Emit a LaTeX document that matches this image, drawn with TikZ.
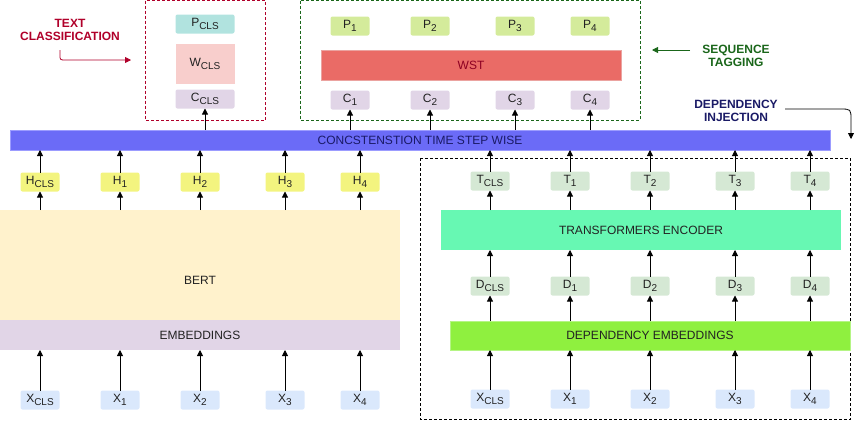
\documentclass[tikz,border=0pt]{standalone}
\usepackage{fontspec}
\setmainfont{Liberation Sans}
\usetikzlibrary{arrows.meta}
\definecolor{cP}{HTML}{D4EB9B}
\definecolor{cPcls}{HTML}{B1E3DF}
\definecolor{cW}{HTML}{F8CECC}
\definecolor{cC}{HTML}{E1D5E7}
\definecolor{cWST}{HTML}{EA6B66}
\definecolor{cWSTb}{HTML}{EBA3A0}
\definecolor{cCat}{HTML}{6B6BF7}
\definecolor{cCatb}{HTML}{9C9CFF}
\definecolor{cH}{HTML}{F3F47F}
\definecolor{cBert}{HTML}{FFF2CC}
\definecolor{cX}{HTML}{DAE8FC}
\definecolor{cT}{HTML}{D5E8D4}
\definecolor{cTr}{HTML}{67F8B3}
\definecolor{cDep}{HTML}{8FF03F}
\definecolor{cDepb}{HTML}{B5F585}
\definecolor{cRed}{HTML}{B0002A}
\definecolor{cGreen}{HTML}{1A661A}
\definecolor{cNavy}{HTML}{1A1A66}
\definecolor{cTxt}{HTML}{222222}
\newcommand\lowsub[1]{\raisebox{-2.5pt}{\fontsize{10}{10}\selectfont #1}}
\begin{document}
\begin{tikzpicture}[x=1pt,y=-1pt,
  every node/.style={font=\fontsize{12}{13}\selectfont, text=cTxt, inner sep=0pt, outer sep=0pt},
  tok/.style={rounded corners=2pt, minimum width=39pt, minimum height=19pt},
  arr/.style={draw=black, line width=0.8pt, -{Triangle[length=6pt,width=6pt]}},
  lbl/.style={font=\fontsize{12}{13}\selectfont\bfseries, align=center},
  dbox/.style={dashed, dash pattern=on 3pt off 2pt, line width=0.8pt},
]
\useasboundingbox (0,0) rectangle (859,421);

% ---------- group frames ----------
\draw[dbox, draw=cRed] (145.5,0.5) rectangle (265.5,120);
\draw[dbox, draw=cGreen] (300.5,0.5) rectangle (640,120);
\draw[dbox, draw=black] (420.5,158) rectangle (850,419.5);

\node[tok, fill=cPcls, minimum width=59pt] (pcls) at (205,24) {P\lowsub{CLS}};
\node[fill=cW, minimum width=59pt, minimum height=40pt] (wcls) at (205,64) {W\lowsub{CLS}};
\node[tok, fill=cC, minimum width=59pt] (ccls) at (205,99) {C\lowsub{CLS}};

\node[tok, fill=cP] (p1) at (350,26) {P\lowsub{1}};
\node[tok, fill=cP] (p2) at (430,26) {P\lowsub{2}};
\node[tok, fill=cP] (p3) at (515,26) {P\lowsub{3}};
\node[tok, fill=cP] (p4) at (590,26) {P\lowsub{4}};
\node[fill=cWST, draw=cWSTb, line width=0.8pt, minimum width=300pt, minimum height=30pt, text=cRed!80!black] (wst) at (471,65) {WST};
\node[tok, fill=cC] (c1) at (350,100) {C\lowsub{1}};
\node[tok, fill=cC] (c2) at (430,100) {C\lowsub{2}};
\node[tok, fill=cC] (c3) at (515,100) {C\lowsub{3}};
\node[tok, fill=cC] (c4) at (590,100) {C\lowsub{4}};

% labels
\node[lbl, text=cRed] (tcl) at (70,29.5) {TEXT\\CLASSIFICATION};
\coordinate (tc0) at (60,50);
\coordinate (tc1) at (131,60);
\draw[arr, draw=cRed] (tc0) -- (60,55) .. controls (60,60) .. (66,60) -- (tc1);

\node[lbl, text=cGreen] (stl) at (736,55.5) {SEQUENCE\\TAGGING};
\coordinate (st0) at (690,50);
\coordinate (st1) at (652,50);
\draw[arr, draw=cGreen] (st0) -- (st1);

\node[lbl, text=cNavy] (dil) at (736,110.5) {DEPENDENCY\\INJECTION};
\coordinate (di0) at (785,109);
\coordinate (di1) at (851,139);
\draw[arr] (di0) -- (840,109) .. controls (851,109) .. (851,120) -- (di1);

% ---------- concatenation bar ----------
\node[fill=cCat, draw=cCatb, line width=0.8pt, minimum width=820pt, minimum height=20pt, text=cNavy] (cat) at (420,140) {CONCSTENSTION TIME STEP WISE};

% ---------- left: BERT ----------
\node[tok, fill=cH] (h0) at (40,182) {H\lowsub{CLS}};
\node[tok, fill=cH] (h1) at (120,182) {H\lowsub{1}};
\node[tok, fill=cH] (h2) at (200,182) {H\lowsub{2}};
\node[tok, fill=cH] (h3) at (285,182) {H\lowsub{3}};
\node[tok, fill=cH] (h4) at (360,182) {H\lowsub{4}};

\node[fill=cBert, minimum width=400pt, minimum height=140pt] (bert) at (200,280) {BERT};
\node[fill=cC, minimum width=400pt, minimum height=30pt] (emb) at (200,335) {EMBEDDINGS};

\node[tok, fill=cX] (xa0) at (40,400) {X\lowsub{CLS}};
\node[tok, fill=cX] (xa1) at (120,400) {X\lowsub{1}};
\node[tok, fill=cX] (xa2) at (200,400) {X\lowsub{2}};
\node[tok, fill=cX] (xa3) at (285,400) {X\lowsub{3}};
\node[tok, fill=cX] (xa4) at (360,400) {X\lowsub{4}};

% ---------- right: dependency ----------
\node[tok, fill=cT] (t0) at (490,181) {T\lowsub{CLS}};
\node[tok, fill=cT] (t1) at (570,181) {T\lowsub{1}};
\node[tok, fill=cT] (t2) at (650,181) {T\lowsub{2}};
\node[tok, fill=cT] (t3) at (735,181) {T\lowsub{3}};
\node[tok, fill=cT] (t4) at (810,181) {T\lowsub{4}};

\node[fill=cTr, minimum width=400pt, minimum height=40pt] (enc) at (641,230) {TRANSFORMERS ENCODER};

\node[tok, fill=cT] (d0) at (490,286) {D\lowsub{CLS}};
\node[tok, fill=cT] (d1) at (570,286) {D\lowsub{1}};
\node[tok, fill=cT] (d2) at (650,286) {D\lowsub{2}};
\node[tok, fill=cT] (d3) at (735,286) {D\lowsub{3}};
\node[tok, fill=cT] (d4) at (810,286) {D\lowsub{4}};

\node[fill=cDep, draw=cDepb, line width=0.8pt, minimum width=400pt, minimum height=29pt] (dep) at (650,335.5) {DEPENDENCY EMBEDDINGS};

\node[tok, fill=cX] (xb0) at (490,399) {X\lowsub{CLS}};
\node[tok, fill=cX] (xb1) at (570,399) {X\lowsub{1}};
\node[tok, fill=cX] (xb2) at (650,399) {X\lowsub{2}};
\node[tok, fill=cX] (xb3) at (735,399) {X\lowsub{3}};
\node[tok, fill=cX] (xb4) at (810,399) {X\lowsub{4}};

% ---------- connectors ----------
\foreach \i in {0,...,4} {
  \draw[arr] (xa\i.north) -- (xa\i.north |- emb.south);
  \draw[arr] (h\i |- bert.north) -- (h\i.south);
  \draw[arr] (h\i.north) -- (h\i.north |- cat.south);
  \draw[arr] (xb\i.north) -- (xb\i.north |- dep.south);
  \draw[arr] (d\i |- dep.north) -- (d\i.south);
  \draw[arr] (d\i.north) -- (d\i.north |- enc.south);
  \draw[arr] (t\i |- enc.north) -- (t\i.south);
  \draw[arr] (t\i.north) -- (t\i.north |- cat.south);
}
\draw[arr] (ccls |- cat.north) -- (ccls.south);
\foreach \i in {1,...,4} {
  \draw[arr] (c\i |- cat.north) -- (c\i.south);
}
\end{tikzpicture}
\end{document}
